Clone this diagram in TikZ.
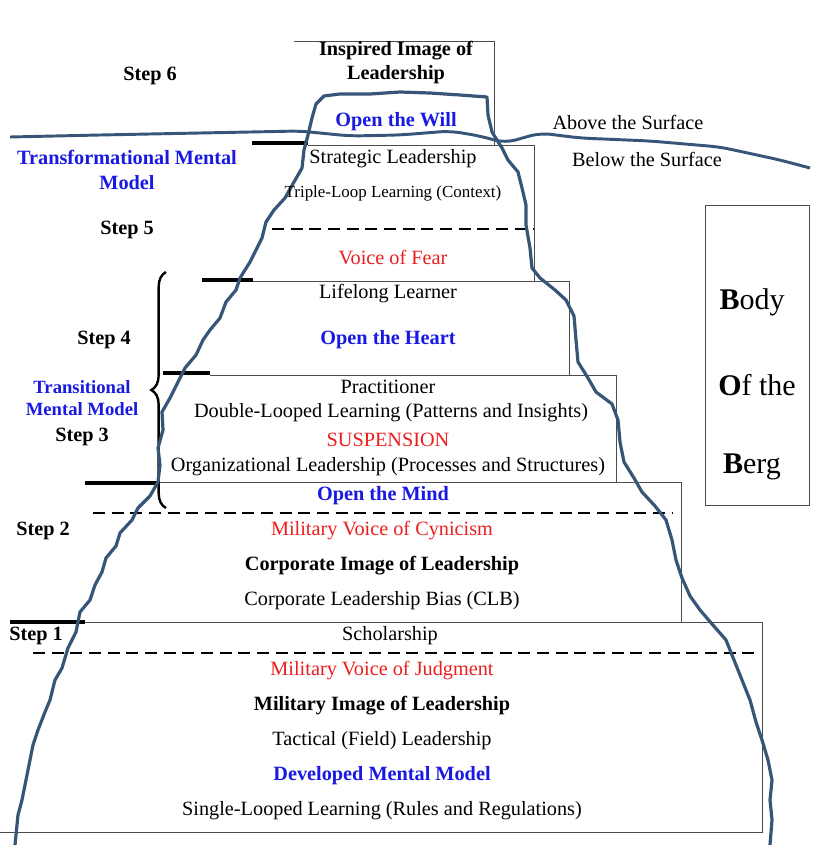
\documentclass[tikz,border=0pt]{standalone}
\usepackage{fontspec}
\setmainfont{Liberation Serif}
\usetikzlibrary{decorations.pathreplacing}
\definecolor{tblue}{RGB}{25,25,225}
\definecolor{tred}{RGB}{235,30,30}
\definecolor{berg}{RGB}{55,85,120}
\begin{document}
\begin{tikzpicture}[x=0.75pt,y=-0.75pt,
  t/.style={font=\fontsize{15.2}{17}\selectfont,inner sep=0pt,align=center},
  b/.style={t,font=\fontsize{15.2}{17}\selectfont\bfseries},
  bl/.style={b,text=tblue},
  rd/.style={t,text=tred},
  box/.style={draw=black!70,line width=0.6pt},
  bar/.style={line width=2.6pt},
  dline/.style={line width=2pt,dash pattern=on 9pt off 5pt}]
\useasboundingbox[fill=white] (0,0) rectangle (820,853);
% boxes
\draw[box] (294,41) -- (494,41) -- (494,145);
\draw[box] (308,145) -- (534,145) -- (534,281);
\draw[box] (253,281) -- (569,281) -- (569,375);
\draw[box] (210,375) -- (616,375) -- (616,482);
\draw[box] (160,482) -- (681,482) -- (681,622);
\draw[box] (85,622) -- (762,622) -- (762,832) -- (0,832);
% bars
\draw[bar] (252,143) -- (308,143);
\draw[bar] (202,280) -- (253,280);
\draw[bar] (163,373) -- (210,373);
\draw[bar] (85,483) -- (160,483);
\draw[bar] (10,622) -- (85,622);
\draw[dline] (272,229) -- (534,229);
\draw[dline] (93,513) -- (672,513);
\draw[dline] (33,653) -- (755,653);
% brace
\draw[line width=1.8pt,decorate,decoration={brace,amplitude=11pt,aspect=0.5}] (166,508) -- (166,272);
% body box
\node[draw=black!70,line width=0.6pt,minimum width=78pt,minimum height=225pt,inner sep=0] (bb) at (757,355.5) {};
\node[t,font=\fontsize{22.5}{24}\selectfont] (b1) at (752,302) {\textbf{B}ody};
\node[t,font=\fontsize{22.5}{24}\selectfont] (b2) at (757,385) {\textbf{O}f the};
\node[t,font=\fontsize{22.5}{24}\selectfont] (b3) at (752,467) {\textbf{B}erg};
% water
\draw[berg,line width=2.2pt,rounded corners=8pt] (10,137) -- (100,135) -- (200,133) -- (300,131) -- (350,136) -- (400,135) -- (450,131) -- (480,136) -- (505,143) -- (540,133) -- (580,138) -- (650,141) -- (720,147) -- (780,160) -- (810,168);
% iceberg
\draw[berg,line width=2.4pt,line join=round] (15,845) -- (18,815) -- (22,800) -- (26,780) -- (30,760) -- (33,745) -- (38,730) -- (45,712) -- (50,700) -- (55,680) -- (62,668) -- (68,648) -- (76,632) -- (80,612) -- (90,600) -- (95,585) -- (102,572) -- (106,558) -- (116,546) -- (120,533) -- (132,520) -- (138,508) -- (150,496) -- (158,482) -- (160,465) -- (158,448) -- (163,430) -- (162,412) -- (170,398) -- (178,382) -- (185,368) -- (196,355) -- (203,340) -- (210,330) -- (220,318) -- (226,302) -- (236,290) -- (240,278) -- (250,262) -- (256,250) -- (262,238) -- (266,222) -- (274,210) -- (285,198) -- (294,182) -- (302,168) -- (304,150) -- (308,135) -- (312,118) -- (316,104) -- (324,96) -- (340,94) -- (370,94) -- (400,92) -- (430,93) -- (460,95) -- (487,97) -- (488,115) -- (492,132) -- (502,148) -- (508,160) -- (518,172) -- (522,188) -- (526,205) -- (526,225) -- (530,248) -- (532,268) -- (540,278) -- (555,290) -- (566,300) -- (574,316) -- (576,340) -- (578,362) -- (588,378) -- (596,392) -- (612,404) -- (618,420) -- (620,442) -- (624,462) -- (634,478) -- (642,492) -- (655,506) -- (666,520) -- (672,540) -- (676,560) -- (682,578) -- (690,596) -- (700,610) -- (712,624) -- (726,640) -- (734,660) -- (742,680) -- (750,700) -- (756,722) -- (762,740) -- (768,760) -- (772,780) -- (770,800) -- (772,820) -- (770,845);
% texts
\node[b] (ins) at (396,63) {Inspired Image of\\[1pt]Leadership};
\node[b] (s6) at (150,76) {Step 6};
\node[bl] (will) at (396,122) {Open the Will};
\node[t] (above) at (628,122) {Above the Surface};
\node[t] (below) at (647,159) {Below the Surface};
\node[bl] (tmm) at (127,170) {Transformational Mental\\[2pt]Model};
\node[t,font=\fontsize{12.7}{14}\selectfont] (tri) at (393,193) {Triple-Loop Learning (Context)};
\node[t] (strat) at (393,159) {Strategic Leadership};
\node[b] (s5) at (127,230) {Step 5};
\node[rd] (fear) at (393,258) {Voice of Fear};
\node[t] (life) at (388,294) {Lifelong Learner};
\node[bl] (heart) at (388,340) {Open the Heart};
\node[b] (s4) at (104,340) {Step 4};
\node[t] (prac) at (388,387) {Practitioner};
\node[t] (dbl) at (391,413) {Double-Looped Learning (Patterns and Insights)};
\node[rd] (susp) at (388,440) {SUSPENSION};
\node[t] (org) at (388,467) {Organizational Leadership (Processes and Structures)};
\node[bl,font=\fontsize{14}{15}\selectfont\bfseries] (trm) at (82,398) {Transitional\\[2pt]Mental Model};
\node[b] (s3) at (82,437) {Step 3};
\node[bl] (mind) at (383,496) {Open the Mind};
\node[b] (s2) at (43,531) {Step 2};
\node[rd] (cyn) at (382,531) {Military Voice of Cynicism};
\node[b] (corp) at (382,566) {Corporate Image of Leadership};
\node[t] (clb) at (382,601) {Corporate Leadership Bias (CLB)};
\node[b] (s1) at (36,636) {Step 1};
\node[t] (schol) at (390,636) {Scholarship};
\node[rd] (judg) at (382,671) {Military Voice of Judgment};
\node[b] (mil) at (382,706) {Military Image of Leadership};
\node[t] (tac) at (382,741) {Tactical (Field) Leadership};
\node[bl] (dev) at (382,776) {Developed Mental Model};
\node[t] (sing) at (382,811) {Single-Looped Learning (Rules and Regulations)};
\end{tikzpicture}
\end{document}
